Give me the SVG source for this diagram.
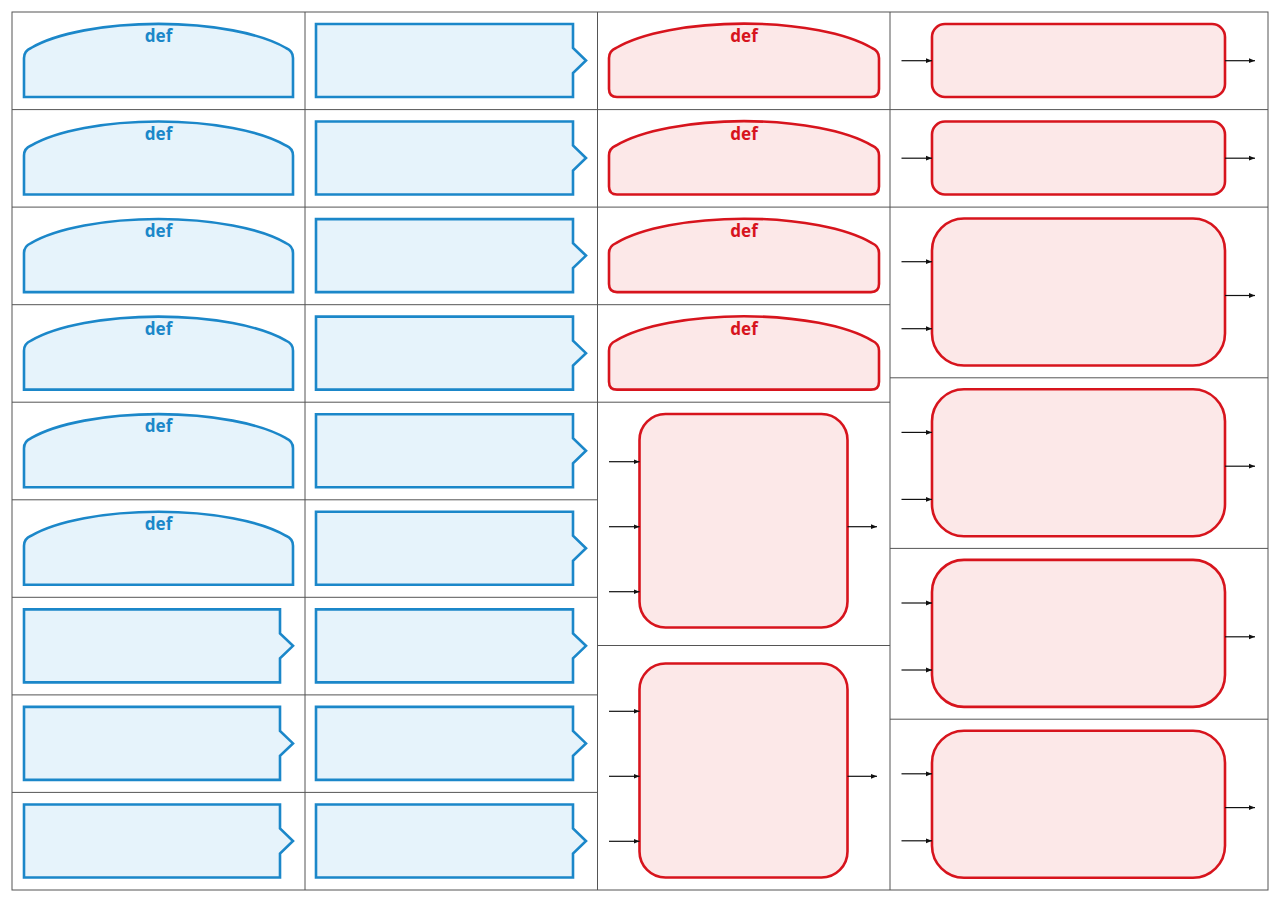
<svg xmlns="http://www.w3.org/2000/svg" xmlns:xlink="http://www.w3.org/1999/xlink" width="1280" height="905" viewBox="0 0 1280 905">
<style>
.grid{stroke:#555;stroke-width:1;fill:none}
.b{fill:#e6f3fb;stroke:#1b87c9;stroke-width:2.6;stroke-linejoin:miter}
.r{fill:#fce8e8;stroke:#d7141d;stroke-width:2.6}
.bt{font-family:"Noto Sans","Open Sans","DejaVu Sans",sans-serif;font-weight:bold;font-size:17px;fill:#1b87c9;text-anchor:middle}
.rt{font-family:"Noto Sans","Open Sans","DejaVu Sans",sans-serif;font-weight:bold;font-size:17px;fill:#d7141d;text-anchor:middle}
.c{stroke:#111;stroke-width:1.2;fill:none;marker-end:url(#ah)}
</style>
<defs>
<marker id="ah" viewBox="0 0 10 10" refX="10" refY="5" markerWidth="6" markerHeight="6" markerUnits="userSpaceOnUse" orient="auto">
<path d="M0,1 L10,5 L0,9 Z" fill="#111"/>
</marker>
<path id="bdome" d="M24,97 V58 Q24,51 31,48 A145 46 0 0 1 286,48 Q293,51 293,58 V97 Z"/>
<path id="bnotch1" d="M24,24 H280 V48 L293,60.5 L280,73 V97 H24 Z"/>
<path id="bnotch2" d="M316,24 H573 V48 L586,60.5 L573,73 V97 H316 Z"/>
<path id="rdome" d="M609,58 Q609,51 616,48 A145 46 0 0 1 872,48 Q879,51 879,58 V89 Q879,97 871,97 H617 Q609,97 609,89 Z"/>
</defs>
<rect width="1280" height="905" fill="#fff"/>
<g id="grid" class="grid">
<rect x="12" y="12" width="1256" height="878"/>
<line x1="305" y1="12" x2="305" y2="890"/>
<line x1="597.5" y1="12" x2="597.5" y2="890"/>
<line x1="890" y1="12" x2="890" y2="890"/>
<line x1="12" y1="109.6" x2="890" y2="109.6"/>
<line x1="12" y1="207.1" x2="1268" y2="207.1"/>
<line x1="12" y1="304.7" x2="890" y2="304.7"/>
<line x1="12" y1="402.2" x2="890" y2="402.2"/>
<line x1="12" y1="499.8" x2="597.5" y2="499.8"/>
<line x1="12" y1="597.3" x2="597.5" y2="597.3"/>
<line x1="12" y1="694.9" x2="597.5" y2="694.9"/>
<line x1="12" y1="792.4" x2="597.5" y2="792.4"/>
<line x1="597.5" y1="645.5" x2="890" y2="645.5"/>
<line x1="890" y1="109.6" x2="1268" y2="109.6"/>
<line x1="890" y1="377.8" x2="1268" y2="377.8"/>
<line x1="890" y1="548.4" x2="1268" y2="548.4"/>
<line x1="890" y1="719.2" x2="1268" y2="719.2"/>
</g>
<g id="a1" transform="translate(0,0)"><use href="#bdome" class="b"/><text class="bt" x="158.5" y="42">def</text></g>
<g id="a2" transform="translate(0,97.56)"><use href="#bdome" class="b"/><text class="bt" x="158.5" y="42">def</text></g>
<g id="a3" transform="translate(0,195.11)"><use href="#bdome" class="b"/><text class="bt" x="158.5" y="42">def</text></g>
<g id="a4" transform="translate(0,292.67)"><use href="#bdome" class="b"/><text class="bt" x="158.5" y="42">def</text></g>
<g id="a5" transform="translate(0,390.22)"><use href="#bdome" class="b"/><text class="bt" x="158.5" y="42">def</text></g>
<g id="a6" transform="translate(0,487.78)"><use href="#bdome" class="b"/><text class="bt" x="158.5" y="42">def</text></g>
<g id="a7" transform="translate(0,585.33)"><use href="#bnotch1" class="b"/></g>
<g id="a8" transform="translate(0,682.89)"><use href="#bnotch1" class="b"/></g>
<g id="a9" transform="translate(0,780.44)"><use href="#bnotch1" class="b"/></g>
<g id="b1" transform="translate(0,0)"><use href="#bnotch2" class="b"/></g>
<g id="b2" transform="translate(0,97.56)"><use href="#bnotch2" class="b"/></g>
<g id="b3" transform="translate(0,195.11)"><use href="#bnotch2" class="b"/></g>
<g id="b4" transform="translate(0,292.67)"><use href="#bnotch2" class="b"/></g>
<g id="b5" transform="translate(0,390.22)"><use href="#bnotch2" class="b"/></g>
<g id="b6" transform="translate(0,487.78)"><use href="#bnotch2" class="b"/></g>
<g id="b7" transform="translate(0,585.33)"><use href="#bnotch2" class="b"/></g>
<g id="b8" transform="translate(0,682.89)"><use href="#bnotch2" class="b"/></g>
<g id="b9" transform="translate(0,780.44)"><use href="#bnotch2" class="b"/></g>
<g id="c1" transform="translate(0,0)"><use href="#rdome" class="r"/><text class="rt" x="744" y="42">def</text></g>
<g id="c2" transform="translate(0,97.56)"><use href="#rdome" class="r"/><text class="rt" x="744" y="42">def</text></g>
<g id="c3" transform="translate(0,195.11)"><use href="#rdome" class="r"/><text class="rt" x="744" y="42">def</text></g>
<g id="c4" transform="translate(0,292.67)"><use href="#rdome" class="r"/><text class="rt" x="744" y="42">def</text></g>
<g id="c5"><rect class="r" x="639.5" y="414" width="208" height="213.5" rx="26"/></g>
<g id="c6"><rect class="r" x="639.5" y="663.5" width="208" height="214" rx="26"/></g>
<g id="d1"><rect class="r" x="932" y="24" width="293" height="73" rx="13"/></g>
<g id="d2"><rect class="r" x="932" y="121.5" width="293" height="73" rx="13"/></g>
<g id="d3"><rect class="r" x="932" y="218.5" width="293" height="147" rx="32"/></g>
<g id="d4"><rect class="r" x="932" y="389.3" width="293" height="147" rx="32"/></g>
<g id="d5"><rect class="r" x="932" y="559.9" width="293" height="147" rx="32"/></g>
<g id="d6"><rect class="r" x="932" y="730.7" width="293" height="147" rx="32"/></g>
<g id="connectors">
<line class="c" x1="609" y1="461.7" x2="639.5" y2="461.7"/>
<line class="c" x1="609" y1="526.7" x2="639.5" y2="526.7"/>
<line class="c" x1="609" y1="591.7" x2="639.5" y2="591.7"/>
<line class="c" x1="847.5" y1="526.7" x2="877" y2="526.7"/>
<line class="c" x1="609" y1="711.3" x2="639.5" y2="711.3"/>
<line class="c" x1="609" y1="776.3" x2="639.5" y2="776.3"/>
<line class="c" x1="609" y1="841.3" x2="639.5" y2="841.3"/>
<line class="c" x1="847.5" y1="776.3" x2="877" y2="776.3"/>
<line class="c" x1="901.5" y1="60.7" x2="932" y2="60.7"/>
<line class="c" x1="1225" y1="60.7" x2="1255" y2="60.7"/>
<line class="c" x1="901.5" y1="158.2" x2="932" y2="158.2"/>
<line class="c" x1="1225" y1="158.2" x2="1255" y2="158.2"/>
<line class="c" x1="901.5" y1="261.7" x2="932" y2="261.7"/>
<line class="c" x1="901.5" y1="328.7" x2="932" y2="328.7"/>
<line class="c" x1="1225" y1="295.5" x2="1255" y2="295.5"/>
<line class="c" x1="901.5" y1="432.4" x2="932" y2="432.4"/>
<line class="c" x1="901.5" y1="499.4" x2="932" y2="499.4"/>
<line class="c" x1="1225" y1="466.2" x2="1255" y2="466.2"/>
<line class="c" x1="901.5" y1="603" x2="932" y2="603"/>
<line class="c" x1="901.5" y1="670" x2="932" y2="670"/>
<line class="c" x1="1225" y1="636.8" x2="1255" y2="636.8"/>
<line class="c" x1="901.5" y1="773.8" x2="932" y2="773.8"/>
<line class="c" x1="901.5" y1="840.8" x2="932" y2="840.8"/>
<line class="c" x1="1225" y1="807.6" x2="1255" y2="807.6"/>
</g>
</svg>
